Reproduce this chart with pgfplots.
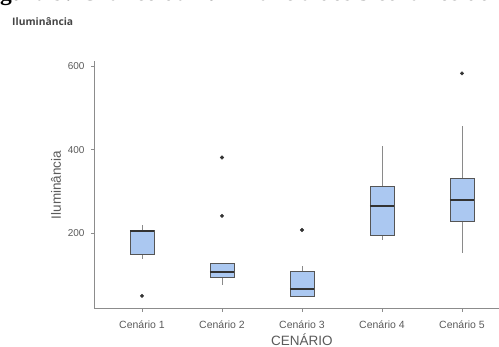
\documentclass[border=0pt]{standalone}
\usepackage{fontspec}
\setmainfont{Liberation Sans}
\newfontfamily\titlefont{Open Sans}
\newfontfamily\capfont{Liberation Serif}
\usepackage{pgfplots}
\pgfplotsset{compat=1.18}
\usepgfplotslibrary{statistics}
\definecolor{boxfill}{HTML}{ABC8F1}
\definecolor{boxedge}{HTML}{555555}
\definecolor{meddark}{HTML}{333333}
\definecolor{whiskgray}{HTML}{8A8A8A}
\definecolor{axisgray}{HTML}{8C8C8C}
\definecolor{labelgray}{HTML}{5A5A5A}
\definecolor{titlegray}{HTML}{444444}
\definecolor{ptdark}{HTML}{333333}
\begin{document}
\begin{tikzpicture}
\useasboundingbox (0pt,0pt) rectangle (499pt,347pt);
\clip (0pt,0pt) rectangle (499pt,347pt);
\node[anchor=base west, inner sep=0, font=\capfont\bfseries\fontsize{23.5}{26}\selectfont] at (-21pt,346pt) {Figura 9: Gráfico da iluminância dos 5 cenários de};
\node[anchor=base west, inner sep=0, font=\titlefont\bfseries\fontsize{10.3}{12}\selectfont, text=titlegray] at (12pt,321pt) {Iluminância};
\begin{axis}[
  at={(94pt,38.2pt)}, anchor=south west,
  scale only axis, width=416pt, height=247.5pt,
  xmin=0.4, xmax=5.6, ymin=18, ymax=612,
  axis x line=bottom, axis y line=left,
  x axis line style={-}, y axis line style={-},
  axis line style={draw=axisgray, line width=0.9pt},
  xtick={1,2,3,4,5},
  xticklabels={Cenário 1,Cenário 2,Cenário 3,Cenário 4,Cenário 5},
  ytick={200,400,600},
  tick align=outside, major tick length=3pt,
  tick style={draw=axisgray, line width=0.8pt},
  ticklabel style={text=labelgray},
  x tick label style={font=\fontsize{10.5}{12}\selectfont, yshift=-5pt},
  y tick label style={font=\fontsize{10}{12}\selectfont, xshift=-3pt},
  /pgf/number format/assume math mode=true,
  xlabel={CENÁRIO}, ylabel={Iluminância},
  label style={font=\fontsize{13.5}{15}\selectfont, text=labelgray},
  xlabel style={at={(axis description cs:0.5,-0.1463)}, anchor=base},
  ylabel style={at={(axis description cs:-0.0913,0.5)}, anchor=center},
  boxplot/draw direction=y,
  boxplot/box extend=0.3,
  boxplot/whisker extend=0,
  boxplot/every box/.style={draw=boxedge, fill=boxfill, line width=0.8pt},
  boxplot/every whisker/.style={draw=whiskgray, line width=0.8pt},
  boxplot/every median/.style={draw=meddark, line width=1.6pt},
]
\addplot[mark=*, mark size=1.8pt, mark options={fill=ptdark, draw=ptdark},
  boxplot prepared={draw position=1, lower whisker=137, lower quartile=149,
  median=205, upper quartile=207, upper whisker=219}]
  table[row sep=\\, y=v] {v\\ 49\\};
\addplot[mark=*, mark size=1.8pt, mark options={fill=ptdark, draw=ptdark},
  boxplot prepared={draw position=2, lower whisker=74, lower quartile=93,
  median=106, upper quartile=127, upper whisker=127}]
  table[row sep=\\, y=v] {v\\ 381\\ 241\\};
\addplot[mark=*, mark size=1.8pt, mark options={fill=ptdark, draw=ptdark},
  boxplot prepared={draw position=3, lower whisker=48, lower quartile=48,
  median=66, upper quartile=107, upper whisker=121}]
  table[row sep=\\, y=v] {v\\ 207\\};
\addplot[mark=*, mark size=1.8pt, mark options={fill=ptdark, draw=ptdark},
  boxplot prepared={draw position=4, lower whisker=183, lower quartile=194,
  median=265, upper quartile=311, upper whisker=409}]
  coordinates {};
\addplot[mark=*, mark size=1.8pt, mark options={fill=ptdark, draw=ptdark},
  boxplot prepared={draw position=5, lower whisker=151, lower quartile=228,
  median=279, upper quartile=332, upper whisker=457}]
  table[row sep=\\, y=v] {v\\ 583\\};
\end{axis}
\end{tikzpicture}
\end{document}
